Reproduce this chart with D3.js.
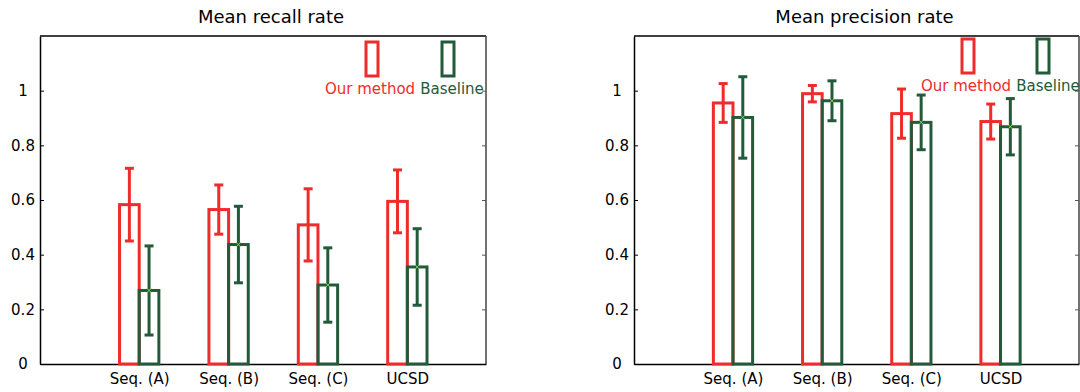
<!DOCTYPE html>
<html>
<head>
<meta charset="utf-8">
<script src="https://cdn.jsdelivr.net/npm/d3@7"></script>
<style>
  body { margin: 0; background: #fff; }
  svg { display: block; font-family: "DejaVu Sans", Verdana, sans-serif; }
</style>
</head>
<body>
<div id="chart"></div>
<script>
var categories = ["Seq. (A)", "Seq. (B)", "Seq. (C)", "UCSD"];
var seriesNames = ["Our method", "Baseline"];
var yTicks = [0, 0.2, 0.4, 0.6, 0.8, 1];

// recall
var recallOurs = [0.583, 0.565, 0.509, 0.595];
var recallOursErr = [0.133, 0.090, 0.132, 0.115];
var recallBase = [0.269, 0.437, 0.289, 0.355];
var recallBaseErr = [0.163, 0.140, 0.136, 0.140];

// precision
var precOurs = [0.955, 0.989, 0.916, 0.887];
var precOursErr = [0.071, 0.030, 0.090, 0.064];
var precBase = [0.902, 0.963, 0.884, 0.868];
var precBaseErr = [0.149, 0.073, 0.100, 0.103];

var red = "#ee2c2c", green = "#235a3a", mark = "#8fd14f";

var svg = d3.select("#chart").append("svg")
    .attr("width", 1080)
    .attr("height", 392);

function drawPanel(p) {
  var x = d3.scaleLinear().domain([-0.11, 4.88]).range([p.left, p.right]);
  var y = d3.scaleLinear().domain([0, 1.2]).range([364, 36]);
  var bw = 0.22;

  var g = svg.append("g");

  // title
  g.append("text")
      .attr("x", (p.left + p.right) / 2 + 8)
      .attr("y", 23)
      .attr("text-anchor", "middle")
      .style("font-size", "18px")
      .style("fill", "#000")
      .text(p.title);

  // frame
  g.append("line").attr("x1", p.left).attr("x2", p.right).attr("y1", 36).attr("y2", 36)
      .attr("stroke", "#000").attr("stroke-width", 1.5);
  g.append("line").attr("x1", p.right).attr("x2", p.right).attr("y1", 36).attr("y2", 364)
      .attr("stroke", "#444").attr("stroke-width", 1.5);

  // y axis left
  var yAxis = d3.axisLeft(y).tickValues(yTicks).tickFormat(d3.format("~g"))
      .tickSizeInner(-4).tickSizeOuter(0).tickPadding(10);
  var ya = g.append("g")
      .attr("transform", "translate(" + p.left + ",0)")
      .call(yAxis);
  ya.select(".domain").attr("stroke", "#000").attr("stroke-width", 1.5);
  ya.selectAll(".tick line").attr("stroke", "#000");
  ya.selectAll(".tick text")
      .attr("x", -17)
      .style("text-anchor", "middle")
      .style("font-size", "15px")
      .style("font-family", "DejaVu Sans, Verdana, sans-serif")
      .style("fill", "#000");

  // y ticks on right side
  var yr = g.append("g")
      .attr("transform", "translate(" + p.right + ",0)")
      .call(d3.axisRight(y).tickValues(yTicks).tickFormat("").tickSizeInner(-4).tickSizeOuter(0));
  yr.select(".domain").remove();
  yr.selectAll(".tick line").attr("stroke", "#555");

  // x axis
  var xa = g.append("g")
      .attr("transform", "translate(0,364)")
      .call(d3.axisBottom(x).tickValues([1, 2, 3, 4])
        .tickFormat(function(d) { return categories[d - 1]; })
        .tickSize(0).tickSizeOuter(0));
  xa.select(".domain").attr("stroke", "#000").attr("stroke-width", 1.5);
  xa.selectAll(".tick text")
      .attr("y", 9)
      .style("font-size", "15px")
      .style("font-family", "DejaVu Sans, Verdana, sans-serif")
      .style("fill", "#000");

  var series = [
    {vals: p.ours, errs: p.oursErr, color: red, off: -bw},
    {vals: p.base, errs: p.baseErr, color: green, off: 0}
  ];

  series.forEach(function(s, si) {
    var data = s.vals.map(function(v, i) { return {pos: i + 1, v: v, e: s.errs[i]}; });

    g.selectAll(".bar" + si)
        .data(data)
        .enter()
        .append("rect")
        .attr("x", function(d) { return x(d.pos + s.off); })
        .attr("width", x(bw) - x(0))
        .attr("y", function(d) { return y(d.v); })
        .attr("height", function(d) { return y(0) - y(d.v); })
        .attr("fill", "none")
        .attr("stroke", s.color)
        .attr("stroke-width", 3);
  });

  series.forEach(function(s, si) {
    var data = s.vals.map(function(v, i) { return {pos: i + 1, v: v, e: s.errs[i]}; });
    var cx = function(d) { return x(d.pos + s.off + bw / 2); };

    var eb = g.selectAll(".err" + si)
        .data(data)
        .enter()
        .append("g")
        .attr("stroke", s.color)
        .attr("stroke-width", 3);
    eb.append("line")
        .attr("x1", cx).attr("x2", cx)
        .attr("y1", function(d) { return y(d.v + d.e); })
        .attr("y2", function(d) { return y(d.v - d.e); });
    eb.append("line")
        .attr("x1", function(d) { return cx(d) - 4.5; })
        .attr("x2", function(d) { return cx(d) + 4.5; })
        .attr("y1", function(d) { return y(d.v + d.e); })
        .attr("y2", function(d) { return y(d.v + d.e); });
    eb.append("line")
        .attr("x1", function(d) { return cx(d) - 4.5; })
        .attr("x2", function(d) { return cx(d) + 4.5; })
        .attr("y1", function(d) { return y(d.v - d.e); })
        .attr("y2", function(d) { return y(d.v - d.e); });

    if (si === 1) {
      eb.append("path")
          .attr("d", function(d) {
            var a = cx(d), b = y(d.v);
            return "M" + (a - 2) + "," + (b - 2) + "L" + (a + 2) + "," + (b + 2) +
                   "M" + (a - 2) + "," + (b + 2) + "L" + (a + 2) + "," + (b - 2);
          })
          .attr("stroke", mark)
          .attr("stroke-width", 1);
    }
  });

  // legend
  var leg = [
    {name: seriesNames[0], color: red, rx: p.legRed, tx: p.legRedText},
    {name: seriesNames[1], color: green, rx: p.legGreen, tx: p.legGreenText}
  ];
  leg.forEach(function(l) {
    g.append("rect")
        .attr("x", l.rx).attr("y", p.legTop)
        .attr("width", 12).attr("height", 34)
        .attr("fill", "none")
        .attr("stroke", l.color)
        .attr("stroke-width", 3);
    g.append("text")
        .attr("x", l.tx).attr("y", p.legTop + 52)
        .attr("text-anchor", "middle")
        .style("font-size", "15px")
        .style("fill", l.color)
        .text(l.name);
  });
}

drawPanel({
  title: "Mean recall rate", left: 40, right: 486,
  ours: recallOurs, oursErr: recallOursErr, base: recallBase, baseErr: recallBaseErr,
  legTop: 42, legRed: 366, legRedText: 370, legGreen: 442, legGreenText: 452
});

drawPanel({
  title: "Mean precision rate", left: 634, right: 1079,
  ours: precOurs, oursErr: precOursErr, base: precBase, baseErr: precBaseErr,
  legTop: 39, legRed: 962, legRedText: 966, legGreen: 1037, legGreenText: 1048
});
</script>
</body>
</html>
